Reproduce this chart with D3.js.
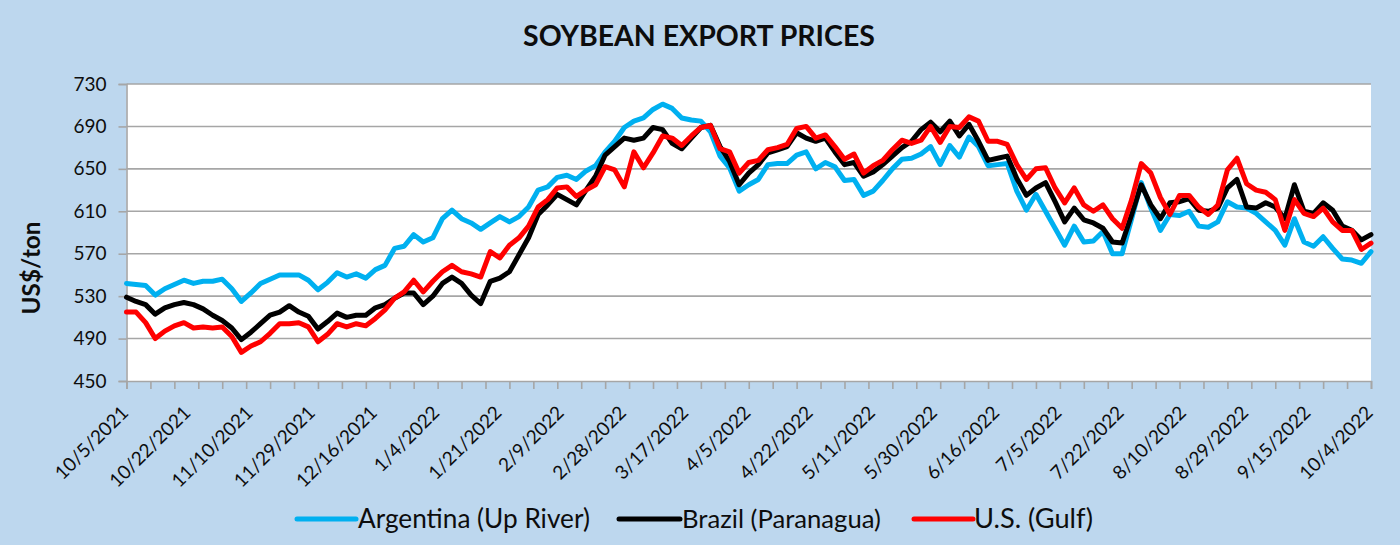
<!DOCTYPE html>
<html>
<head>
<meta charset="utf-8">
<script src="https://cdn.jsdelivr.net/npm/d3@7"></script>
<style>
  html, body { margin: 0; padding: 0; background: #BDD7EE; }
  svg { display: block; }
  text { font-family: Lato, "Open Sans", sans-serif; fill: #0d0d0d; }
</style>
</head>
<body>
<svg id="chart" width="1400" height="545"></svg>
<script>
// ---------------- DATA ----------------
const title = "SOYBEAN EXPORT PRICES";
const yTitle = "US$/ton";
const startDate = "2021-10-05";
const endDate = "2022-10-04";
const sampleEvery = 2; // one value every 2 business days
const tickLabels = ["10/5/2021","10/22/2021","11/10/2021","11/29/2021","12/16/2021","1/4/2022","1/21/2022",
  "2/9/2022","2/28/2022","3/17/2022","4/5/2022","4/22/2022","5/11/2022","5/30/2022","6/16/2022",
  "7/5/2022","7/22/2022","8/10/2022","8/29/2022","9/15/2022","10/4/2022"];
const yTicks = [450, 490, 530, 570, 610, 650, 690, 730];
const seriesNames = ["Argentina (Up River)", "Brazil (Paranagua)", "U.S. (Gulf)"];

const argentina = [
  542,541,540,531,537,541,545,542,544,544,
  546,537,525,533,542,546,550,550,550,545,
  536,543,552,548,551,547,555,559,575,577,
  588,581,585,603,611,603,599,593,599,605,
  600,605,614,630,633,642,644,640,648,653,
  666,676,689,695,698,706,711,707,698,696,
  695,685,662,651,629,635,640,654,655,655,
  663,666,650,656,652,639,640,625,629,639,
  650,659,660,664,671,654,672,661,680,671,
  653,654,655,629,611,626,610,594,578,596,
  581,582,591,570,570,603,637,613,592,607,
  606,610,596,595,600,619,614,613,608,600,
  592,578,603,581,577,586,575,565,564,561,
  572];
const brazil = [
  529,525,522,513,519,522,524,522,518,512,
  507,500,489,496,504,512,515,521,515,511,
  499,506,514,510,512,512,519,522,528,533,
  533,522,530,542,548,542,531,523,544,547,
  553,569,585,607,616,626,621,616,630,643,
  663,671,679,677,679,689,687,674,669,679,
  689,691,671,657,635,646,654,665,668,671,
  684,679,676,679,666,654,656,643,647,654,
  662,670,676,687,694,685,695,681,692,676,
  658,660,662,641,625,632,637,619,600,613,
  602,599,594,581,580,607,635,616,603,618,
  619,622,611,610,613,632,640,614,613,618,
  614,603,635,610,608,618,611,596,592,583,
  588];
const us = [
  515,515,505,490,497,502,505,500,501,500,
  501,492,477,483,487,495,504,504,505,501,
  487,494,504,501,504,502,509,517,528,534,
  545,534,544,553,559,553,551,548,572,566,
  578,585,596,614,621,632,633,624,630,635,
  652,649,633,666,651,665,681,679,672,681,
  689,691,669,666,646,656,658,668,670,673,
  688,690,679,682,671,659,664,646,653,658,
  668,677,674,677,690,675,690,689,699,695,
  676,676,673,654,640,650,651,632,618,632,
  616,610,616,603,594,621,655,646,623,607,
  625,625,614,607,616,649,660,636,630,628,
  621,592,621,608,605,613,600,592,592,574,
  580];
const seriesColors = ["#00B0F0", "#000000", "#FF0000"];

// ------------- CATEGORIES (business days) -------------
const fmt = d3.timeFormat("%-m/%-d/%Y");
const days = d3.timeDay.range(new Date(startDate + "T00:00:00"), d3.timeDay.offset(new Date(endDate + "T00:00:00"), 1))
  .filter(d => d.getDay() !== 0 && d.getDay() !== 6)
  .map(fmt);

const svg = d3.select("#chart");
const margin = { left: 126.5, right: 29, top: 84, bottom: 164 };
const W = 1400, H = 545;

const x = d3.scalePoint().domain(days).range([margin.left, W - margin.right]);
const y = d3.scaleLinear().domain([450, 730]).range([381, 84]);

// plot area
svg.append("rect").attr("x", margin.left).attr("y", y(730))
  .attr("width", W - margin.right - margin.left).attr("height", y(450) - y(730))
  .attr("fill", "#ffffff");

// gridlines
svg.append("g").selectAll("line").data(yTicks.filter(t => t !== 450)).join("line")
  .attr("x1", margin.left).attr("x2", W - margin.right)
  .attr("y1", d => y(d)).attr("y2", d => y(d))
  .attr("stroke", "#A6A6A6").attr("stroke-width", 1.6);

// y axis
const yAxis = svg.append("g").attr("transform", `translate(${margin.left},0)`)
  .call(d3.axisLeft(y).tickValues(yTicks).tickSize(8).tickPadding(12).tickFormat(d3.format("d")));
yAxis.select(".domain").attr("stroke", "#A6A6A6").attr("stroke-width", 1.6);
yAxis.selectAll(".tick line").attr("stroke", "#A6A6A6").attr("stroke-width", 1.6);
yAxis.selectAll(".tick text").style("font-family", "Lato").style("font-size", "19px").attr("fill", "#0d0d0d");

// x axis (tick marks every 5 categories)
const xAxis = svg.append("g").attr("transform", `translate(0,${y(450)})`)
  .call(d3.axisBottom(x).tickValues(days.filter((d, i) => i % 5 === 0)).tickSize(8).tickFormat(""));
xAxis.select(".domain").attr("stroke", "#A6A6A6").attr("stroke-width", 1.6);
xAxis.selectAll(".tick line").attr("stroke", "#A6A6A6").attr("stroke-width", 1.6);

// x labels every 13 categories
const labelDays = days.filter((d, i) => i % 13 === 0);
svg.append("g").selectAll("text").data(labelDays).join("text")
  .attr("transform", (d, i) => `translate(${x(d) + 3},${y(450) + 33}) rotate(-45)`)
  .attr("text-anchor", "end")
  .style("font-size", "19px")
  .text((d, i) => tickLabels[i]);

// lines
const seriesData = [argentina, brazil, us];
const line = d3.line().x(d => x(d.day)).y(d => y(d.v)).curve(d3.curveLinear);
seriesData.forEach((vals, s) => {
  const pts = vals.map((v, k) => ({ day: days[k * sampleEvery], v }));
  svg.append("path").datum(pts)
    .attr("fill", "none").attr("stroke", seriesColors[s])
    .attr("stroke-width", 5).attr("stroke-linejoin", "round").attr("stroke-linecap", "round")
    .attr("d", line);
});

// helper to fit text to a measured width
function fit(sel, target) {
  const n = sel.node();
  const w = n.getComputedTextLength();
  const fs = parseFloat(sel.style("font-size"));
  sel.style("font-size", (fs * target / w) + "px");
}

// title
const t = svg.append("text").attr("x", 699).attr("y", 45.5).attr("text-anchor", "middle")
  .style("font-weight", "bold").style("font-size", "28px").text(title);
fit(t, 352);

// y title
const yt = svg.append("text").attr("transform", "translate(40,268) rotate(-90)").attr("text-anchor", "middle")
  .style("font-weight", "bold").style("font-size", "22px").text(yTitle);
fit(yt, 93);

// legend
const legendPos = [
  { x1: 297, x2: 356, tx: 358, w: 232 },
  { x1: 619, x2: 680, tx: 682, w: 199 },
  { x1: 914, x2: 973, tx: 974, w: 119 }
];
seriesNames.forEach((name, s) => {
  const p = legendPos[s];
  svg.append("line").attr("x1", p.x1).attr("x2", p.x2).attr("y1", 519).attr("y2", 519)
    .attr("stroke", seriesColors[s]).attr("stroke-width", 5).attr("stroke-linecap", "round");
  const lt = svg.append("text").attr("x", p.tx).attr("y", 527.5).style("font-size", "20px").text(name);
  fit(lt, p.w);
});
</script>
</body>
</html>
